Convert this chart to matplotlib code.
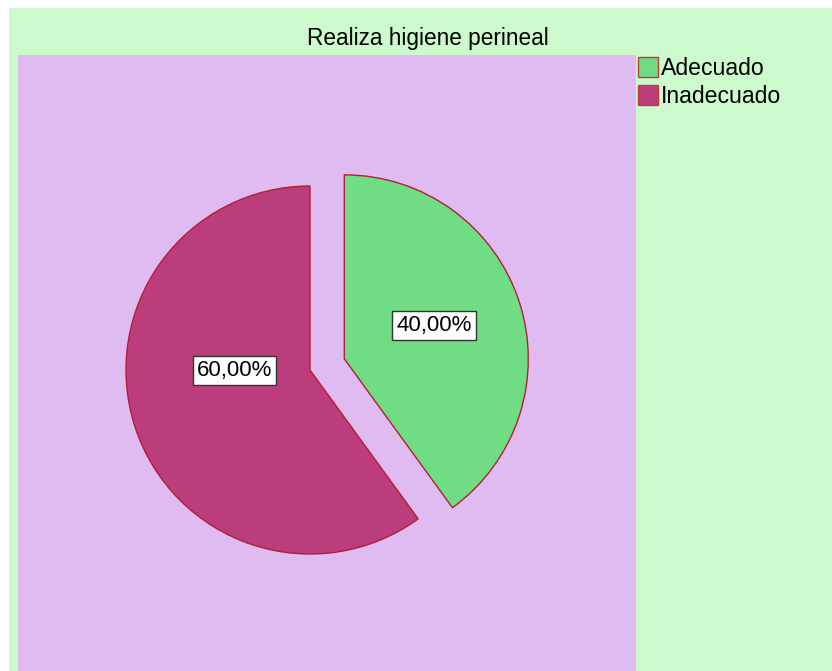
import matplotlib
matplotlib.use("Agg")
import matplotlib.pyplot as plt
import numpy as np
from matplotlib.patches import Rectangle

categories = ["Adecuado", "Inadecuado"]
values = [40.0, 60.0]
colors = ["#70dc84", "#bb3d7b"]
title = "Realiza higiene perineal"

W, H = 832, 671
fig = plt.figure(figsize=(W / 100, H / 100), dpi=100)
fig.patch.set_facecolor("white")
bg = fig.add_axes([9 / W, 0, 1 - 9 / W, 1 - 8 / H], zorder=-10)
bg.set_facecolor("#ccfacc")
bg.set_xticks([])
bg.set_yticks([])
for s in bg.spines.values():
    s.set_visible(False)

left, right, top, bottom = 18, 636, 55, 671
ax = fig.add_axes([left / W, 1 - bottom / H, (right - left) / W, (bottom - top) / H], zorder=1)
ax.set_facecolor("#dfbbf2")

font = "Liberation Sans"
cx, cy, r = 310 - left, bottom - 370, 184
explode = [0.196 * r, 0.0]
wedges, _ = ax.pie(values, colors=colors, startangle=90, counterclock=False,
                   explode=explode, center=(cx, cy), radius=r, frame=True,
                   wedgeprops=dict(edgecolor="#b22035", linewidth=1.0))
ax.set_xlim(0, right - left)
ax.set_ylim(0, bottom - top)
ax.set_aspect("equal")
ax.set_xticks([])
ax.set_yticks([])
for s in ax.spines.values():
    s.set_visible(False)

# label placement (fraction of radius, angle in degrees)
label_layout = [(0.52, 20.5), (0.41, 180.4)]
for w, v, (frac, ang) in zip(wedges, values, label_layout):
    wcx, wcy = w.center
    tx = wcx + frac * r * np.cos(np.radians(ang))
    ty = wcy + frac * r * np.sin(np.radians(ang))
    ax.text(tx, ty, f"{v:.2f}%".replace(".", ","), ha="center", va="center",
            fontsize=16, family=font,
            bbox=dict(boxstyle="square,pad=0.18", facecolor="white", edgecolor="#333333", linewidth=1.0))

fig.text(428 / W, 1 - 38 / H, title, ha="center", va="center",
         fontsize=16.3, family=font)

handles = [Rectangle((0, 0), 1, 1, facecolor=c, edgecolor="#c03a3a", linewidth=1.0) for c in colors]
leg = fig.legend(handles, categories, loc="upper left", bbox_to_anchor=(638 / W, 1 - 57 / H),
                 frameon=False, borderpad=0, borderaxespad=0, handlelength=0.85, handleheight=0.95,
                 handletextpad=0.15, labelspacing=0.2, prop=dict(family=font, size=16.6))
leg.set_zorder(5)

fig.savefig("out.png", dpi=100)
